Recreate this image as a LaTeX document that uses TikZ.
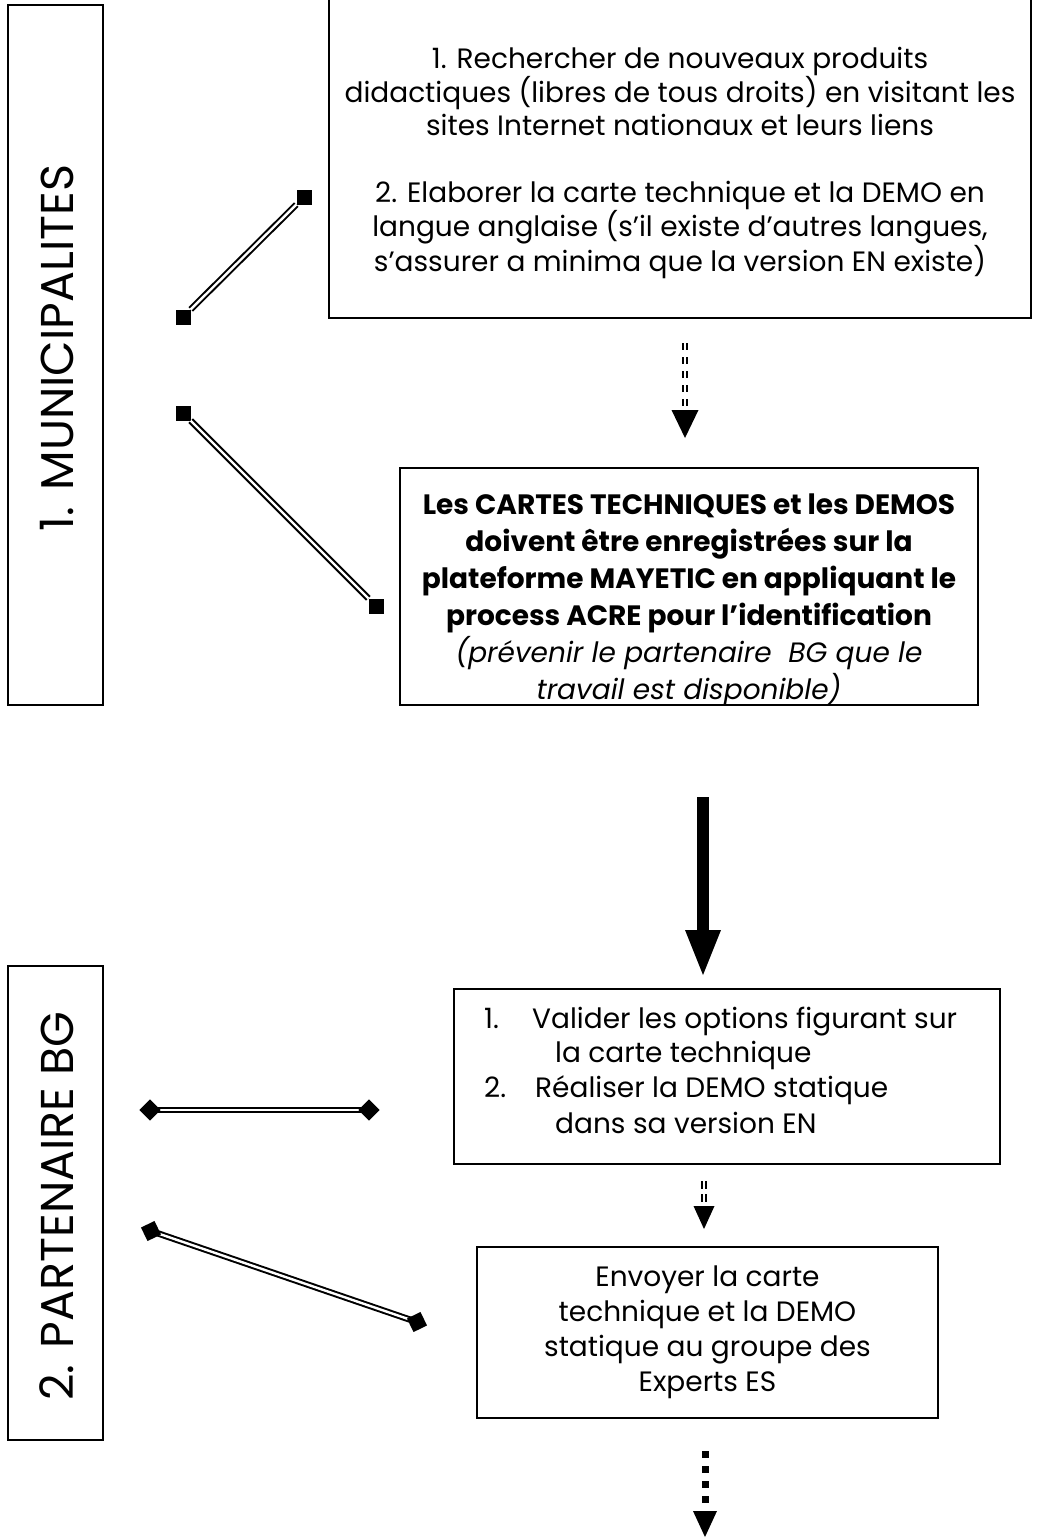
\documentclass[tikz,border=0pt]{standalone}
\usepackage{fontspec}
\setmainfont{Poppins}
\begin{document}
\begin{tikzpicture}[x=1pt,y=-1pt,
  boxst/.style={draw, line width=1.6, inner sep=0, minimum width=#1},
  txt/.style={font=\fontsize{28}{33.5}\selectfont, inner sep=0, align=center},
  side/.style={font=\fontsize{46}{48}\selectfont, inner sep=0, rotate=90},
  sq/.style={fill=black, draw=none, minimum size=15, inner sep=0},
  dbl/.style={double, line width=2, double distance=2.4},
  dashdbl/.style={double, line width=2, double distance=2.4, dash pattern=on 7 off 7}]
\useasboundingbox (0,0) rectangle (1039,1539);

% left side boxes
\node[boxst=95, minimum height=700] (s1) at (55.5,355) {};
\node[side] (s1t) at (57,348) {1. MUNICIPALITES};
\node[boxst=95, minimum height=474] (s2) at (55.5,1203) {};
\node[side] (s2t) at (57,1206) {2. PARTENAIRE BG};

% box A
\node[boxst=702, minimum height=330] (bA) at (680,153) {};
\node[txt] (tA) at (680,163) {1. Rechercher de nouveaux produits\\
didactiques (libres de tous droits) en visitant les\\
sites Internet nationaux et leurs liens\\[33.5pt]
2. Elaborer la carte technique et la DEMO en\\
langue anglaise (s’il existe d’autres langues,\\
s’assurer a minima que la version EN existe)};

% box B with clipped text
\node[boxst=578, minimum height=237] (bB) at (689,586.5) {};
\begin{scope}
\clip (400,468) rectangle (978,705);
\node[txt, font=\fontsize{28}{37}\selectfont, anchor=north] (tB) at (689,494) {\textbf{Les CARTES TECHNIQUES et les DEMOS}\\
\textbf{doivent être enregistrées sur la}\\
\textbf{plateforme MAYETIC en appliquant le}\\
\textbf{process ACRE pour l’identification}\\
\textit{(prévenir le partenaire\ \ BG que le}\\
\textit{travail est disponible)}};
\end{scope}

% box C
\node[boxst=546, minimum height=175] (bC) at (727,1076.5) {};
\node[txt, anchor=west] (c1) at (484,1022) {\makebox[48pt][l]{1.}Valider les options figurant sur};
\node[txt, anchor=west] (c2) at (555,1055) {la carte technique};
\node[txt, anchor=west] (c3) at (484,1090) {\makebox[51pt][l]{2.}Réaliser la DEMO statique};
\node[txt, anchor=west] (c4) at (555,1123) {dans sa version EN};

% box D
\node[boxst=461, minimum height=171] (bD) at (707.5,1332.5) {};
\node[txt, font=\fontsize{28}{35}\selectfont] (tD) at (707.5,1332) {Envoyer la carte\\
technique et la DEMO\\
statique au groupe des\\
Experts ES};

% double-line connectors with square ends
\node[sq] (e1a) at (183,317) {};
\node[sq] (e1b) at (304,197) {};
\draw[dbl] (e1a) -- (e1b);
\node[sq] (e2a) at (183,413) {};
\node[sq] (e2b) at (376,606) {};
\draw[dbl] (e2a) -- (e2b);
\coordinate (e3a) at (150,1110);
\coordinate (e3b) at (369,1110);
\draw[dbl] (e3a) -- (e3b);
\node[sq, rotate=45] (d3a) at (e3a) {};
\node[sq, rotate=45] (d3b) at (e3b) {};
\coordinate (e4a) at (151,1231);
\coordinate (e4b) at (417,1322);
\draw[dbl] (e4a) -- (e4b);
\node[sq, rotate=-18.9+45] (d4a) at (e4a) {};
\node[sq, rotate=-18.9+45] (d4b) at (e4b) {};

% arrow A -> B (dashed double)
\coordinate (a1s) at (685,343);
\coordinate (a1e) at (685,412);
\coordinate (a1t) at (685,438);
\draw[dashdbl] (a1s) -- (a1e);
\fill (a1e) ++(-13.5,-2) -- ++(27,0) -- (a1t) -- cycle;

% thick arrow
\coordinate (a2s) at (703,797);
\coordinate (a2e) at (703,932);
\coordinate (a2t) at (703,975);
\draw[line width=12] (a2s) -- (a2e);
\fill (a2e) ++(-18,-2) -- ++(36,0) -- (a2t) -- cycle;

% small dashed double arrow C -> D
\coordinate (a3s) at (704,1181);
\coordinate (a3e) at (704,1208);
\coordinate (a3t) at (704,1229);
\draw[double, line width=2, double distance=2.4, dash pattern=on 8 off 5] (a3s) -- (a3e);
\fill (a3e) ++(-10.5,-2) -- ++(21,0) -- (a3t) -- cycle;

% bottom dotted arrow
\coordinate (a4s) at (705,1451);
\coordinate (a4e) at (705,1511);
\coordinate (a4t) at (705,1537);
\draw[line width=7, dash pattern=on 7 off 8] (a4s) -- (a4e);
\fill (a4e) ++(-12,0) -- ++(24,0) -- (a4t) -- cycle;
\end{tikzpicture}
\end{document}
